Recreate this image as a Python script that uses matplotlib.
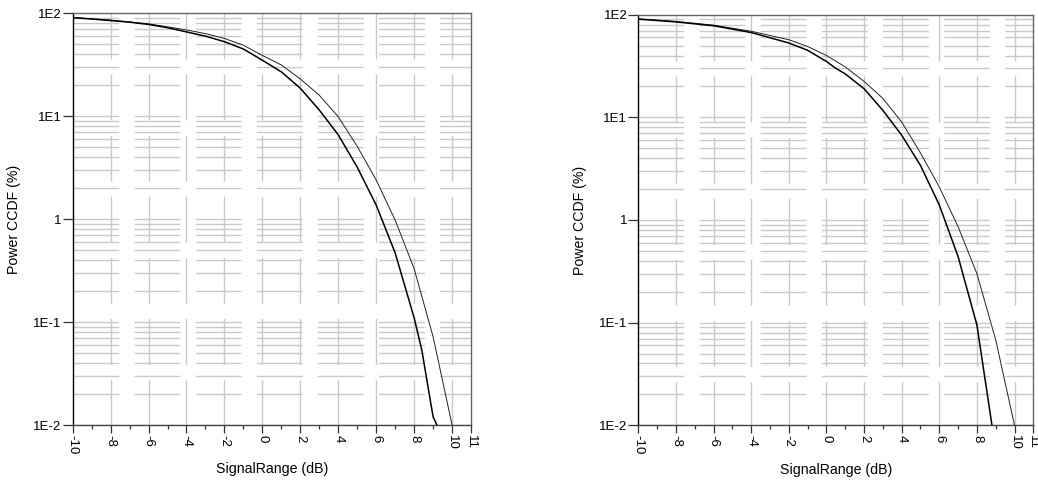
import matplotlib
matplotlib.use("Agg")
import matplotlib.pyplot as plt
from matplotlib.ticker import FixedLocator, NullLocator

plt.rcParams['font.family'] = ['Liberation Sans', 'DejaVu Sans']
plt.rcParams['lines.scale_dashes'] = False

# CCDF curves, signal range in dB vs probability in %
left_x_a = [-10, -9, -8, -7, -6, -5, -4, -3, -2, -1, 0, 1, 2, 3, 4, 5, 6, 7, 8, 8.4, 9, 9.2]
left_y_a = [90.8, 88, 85, 82, 78, 72.5, 66, 60, 53, 45, 35, 27, 18.7, 11.5, 6.6, 3.2, 1.37, 0.47, 0.11, 0.054, 0.012, 0.01]
left_x_b = [-10, -8, -6, -4, -3, -2, -1, 0, 1, 2, 3, 4, 5, 6, 7, 8, 9, 10]
left_y_b = [91, 86, 79, 69, 63.5, 57, 49, 39, 31.5, 23, 16, 9.9, 5.1, 2.4, 0.98, 0.33, 0.072, 0.01]

right_x_a = [-10, -8, -6, -4, -2, -1, 0, 0.5, 1, 2, 3, 4, 5, 6, 7, 8, 8.8]
right_y_a = [90.5, 85, 78, 67, 53, 45, 35, 30, 26.5, 19, 11.7, 6.7, 3.4, 1.4, 0.44, 0.095, 0.01]
right_x_b = [-10, -8, -6, -4, -2, -1, 0, 1, 2, 3, 4, 5, 6, 7, 8, 9, 10]
right_y_b = [91, 86, 79, 69, 57, 49, 40, 31, 22.4, 15.3, 9, 4.5, 2.1, 0.86, 0.30, 0.068, 0.01]

x_major = [-10, -8, -6, -4, -2, 0, 2, 4, 6, 8, 10, 11]
x_minor = [-9, -7, -5, -3, -1, 1, 3, 5, 7, 9]
x_grid = [-8, -6, -4, -2, 0, 2, 4, 6, 8, 10]
y_major = [1e-2, 1e-1, 1, 10, 100]
y_labels = ["1E-2", "1E-1", "1", "1E1", "1E2"]

grid_col = '#c9c9c9'
dash = (33, 11)

fig = plt.figure(figsize=(10.38, 4.86), dpi=100)
ax1 = fig.add_axes([0.0700, 0.1255, 0.3838, 0.8471])
ax2 = fig.add_axes([0.6150, 0.1249, 0.3805, 0.8449])


def setup(ax, xa, ya, xb, yb):
    ax.set_yscale('log')
    ax.set_xlim(-10, 11)
    ax.set_ylim(1e-2, 1e2)

    # broken grey grid: horizontal lines start at left, vertical ones at top
    for dec in [1e-2, 1e-1, 1, 10]:
        for m in range(1, 10):
            ax.axhline(dec * m, color=grid_col, lw=1.0, dashes=dash, zorder=1)
    for gx in x_grid:
        ax.plot([gx, gx], [1, 0], transform=ax.get_xaxis_transform(),
                color=grid_col, lw=1.0, dashes=dash, zorder=1)

    ax.plot(xb, yb, color='#222222', lw=0.7, zorder=3)
    ax.plot(xa, ya, color='black', lw=1.1, zorder=3)

    ax.xaxis.set_major_locator(FixedLocator(x_major))
    ax.xaxis.set_minor_locator(FixedLocator(x_minor))
    ax.set_xticklabels([str(v) for v in x_major], rotation=-90, fontsize=9.5)
    ax.yaxis.set_major_locator(FixedLocator(y_major))
    ax.yaxis.set_minor_locator(NullLocator())
    ax.set_yticklabels(y_labels, fontsize=9.5)

    ax.tick_params(axis='x', which='major', direction='out', length=6, width=0.9,
                   color='#333333', pad=1)
    ax.tick_params(axis='x', which='minor', direction='out', length=3, width=0.9,
                   color='#333333')
    ax.tick_params(axis='y', which='major', direction='out', length=7, width=0.9,
                   color='#333333', pad=1)

    ax.spines['left'].set_color('black')
    ax.spines['bottom'].set_color('#444444')
    ax.spines['top'].set_color('#666666')
    ax.spines['right'].set_color('#666666')
    for s in ax.spines.values():
        s.set_linewidth(1.0)

    ax.set_xlabel('SignalRange (dB)', fontsize=10.2, labelpad=6)
    ax.set_ylabel('Power CCDF (%)', fontsize=10.2)
    ax.yaxis.set_label_coords(-0.129, 0.5)


setup(ax1, left_x_a, left_y_a, left_x_b, left_y_b)
setup(ax2, right_x_a, right_y_a, right_x_b, right_y_b)

fig.savefig('out.png', dpi=100)
